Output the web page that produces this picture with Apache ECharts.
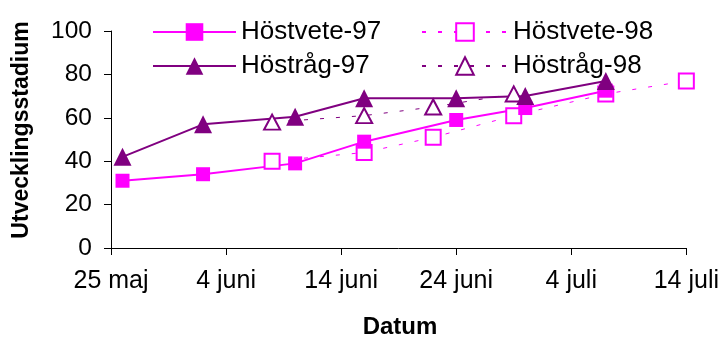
<!DOCTYPE html>
<html>
<head>
<meta charset="utf-8">
<script src="https://cdn.jsdelivr.net/npm/echarts@6/dist/echarts.min.js"></script>
<style>
  html, body { margin: 0; padding: 0; background: #fff; }
  #chart { width: 722px; height: 338px; }
</style>
</head>
<body>
<div id="chart"></div>
<script>
// Sampling dates (month-day) and development stage per crop and year
const vete97Dates = ['05-26', '06-02', '06-10', '06-16', '06-24', '06-30', '07-07'];
const vete97Values = [31, 34, 39, 49, 59, 64.5, 72.5];
const rag97Dates = ['05-26', '06-02', '06-10', '06-16', '06-24', '06-30', '07-07'];
const rag97Values = [42, 57, 60.5, 69, 69, 70, 77];
const vete98Dates = ['06-08', '06-16', '06-22', '06-29', '07-07', '07-14'];
const vete98Values = [40, 44, 51, 61, 71, 77];
const rag98Dates = ['06-08', '06-16', '06-22', '06-29'];
const rag98Values = [58, 61, 65, 71];

// x tick labels, one every 10 days starting 25 May
const xTickLabels = ['25 maj', '4 juni', '14 juni', '24 juni', '4 juli', '14 juli'];
const yTicks = [0, 20, 40, 60, 80, 100];

const FONT = '"Liberation Sans", Arial, sans-serif';
const MAGENTA = '#FF00FF';
const PURPLE = '#800080';

// days after 25 May for a "MM-DD" string
function dayOffset(md) {
  const [m, d] = md.split('-').map(Number);
  return (Date.UTC(2000, m - 1, d) - Date.UTC(2000, 4, 25)) / 864e5;
}
function pairs(dates, values) {
  return dates.map((md, i) => [dayOffset(md), values[i]]);
}

const legendText = { fontFamily: FONT, fontSize: 26, color: '#000' };

const chart = echarts.init(document.getElementById('chart'));
chart.setOption({
  animation: false,
  backgroundColor: '#fff',
  grid: { left: 111, right: 33, top: 31, bottom: 90 },
  xAxis: {
    type: 'value',
    min: 0,
    max: (xTickLabels.length - 1) * 10,
    interval: 10,
    axisLine: { show: true, lineStyle: { color: '#000', width: 1 } },
    axisTick: { show: true, length: 7, lineStyle: { color: '#000' } },
    axisLabel: {
      margin: 21,
      fontFamily: FONT, fontSize: 25, color: '#000',
      formatter: v => xTickLabels[Math.round(v / 10)]
    },
    splitLine: { show: false }
  },
  yAxis: {
    type: 'value',
    min: yTicks[0],
    max: yTicks[yTicks.length - 1],
    interval: 20,
    axisLine: { show: true, lineStyle: { color: '#000', width: 1 } },
    axisTick: { show: true, length: 7, lineStyle: { color: '#000' } },
    axisLabel: { margin: 19, fontFamily: FONT, fontSize: 24.5, color: '#000' },
    splitLine: { show: false }
  },
  legend: [
    {
      orient: 'vertical',
      left: 147, top: 14,
      itemWidth: 83, itemHeight: 22, itemGap: 8,
      textStyle: legendText,
      data: ['Höstvete-97', 'Höstråg-97']
    },
    {
      orient: 'vertical',
      left: 416, top: 14,
      itemWidth: 86, itemHeight: 22, itemGap: 8,
      textStyle: legendText,
      data: ['Höstvete-98', 'Höstråg-98']
    }
  ],
  graphic: [
    {
      type: 'text', x: 22, y: 130, rotation: Math.PI / 2,
      style: {
        text: 'Utvecklingsstadium', fontFamily: FONT, fontSize: 23, fontWeight: 'bold',
        fill: '#000', align: 'center', verticalAlign: 'middle'
      }
    },
    {
      type: 'text', x: 400, y: 327,
      style: {
        text: 'Datum', fontFamily: FONT, fontSize: 24, fontWeight: 'bold',
        fill: '#000', align: 'center', verticalAlign: 'middle'
      }
    }
  ],
  series: [
    {
      name: 'Höstvete-98', type: 'line', data: pairs(vete98Dates, vete98Values),
      symbol: 'rect', symbolSize: 15,
      lineStyle: { color: MAGENTA, width: 1, type: [4, 12] },
      itemStyle: { color: '#fff', borderColor: MAGENTA, borderWidth: 2 }
    },
    {
      name: 'Höstråg-98', type: 'line', data: pairs(rag98Dates, rag98Values),
      symbol: 'triangle', symbolSize: [16, 15],
      lineStyle: { color: PURPLE, width: 1, type: [4, 12] },
      itemStyle: { color: '#fff', borderColor: PURPLE, borderWidth: 2 }
    },
    {
      name: 'Höstvete-97', type: 'line', data: pairs(vete97Dates, vete97Values),
      symbol: 'rect', symbolSize: 14,
      lineStyle: { color: MAGENTA, width: 2 },
      itemStyle: { color: MAGENTA }
    },
    {
      name: 'Höstråg-97', type: 'line', data: pairs(rag97Dates, rag97Values),
      symbol: 'triangle', symbolSize: 18,
      lineStyle: { color: PURPLE, width: 2 },
      itemStyle: { color: PURPLE }
    }
  ]
});
</script>
</body>
</html>
